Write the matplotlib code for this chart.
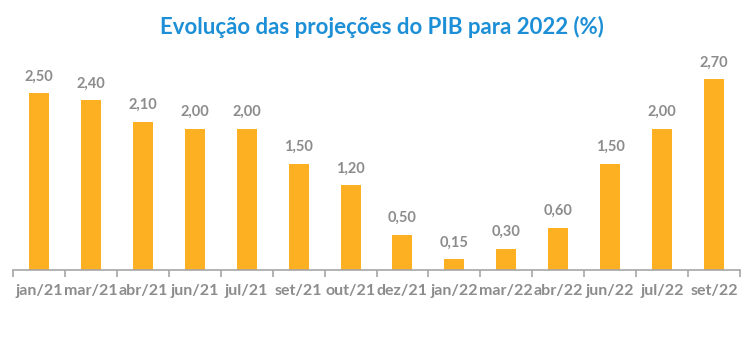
import matplotlib.pyplot as plt

months = ["jan/21", "mar/21", "abr/21", "jun/21", "jul/21", "set/21", "out/21",
          "dez/21", "jan/22", "mar/22", "abr/22", "jun/22", "jul/22", "set/22"]
pib = [2.50, 2.40, 2.10, 2.00, 2.00, 1.50, 1.20, 0.50, 0.15, 0.30, 0.60, 1.50, 2.00, 2.70]

BAR = "#FDB022"
GRAY = "#8C8C8C"
TITLE = "#1C8FD6"

plt.rcParams["font.family"] = ["Lato", "DejaVu Sans"]

fig = plt.figure(figsize=(7.5, 3.55), dpi=100)
ax = fig.add_axes([13 / 750, 1 - 270 / 355, 727 / 750, 3.0 * 70.7 / 355])

x = range(len(months))
ax.bar(x, pib, width=0.385, color=BAR)
for xi, v in zip(x, pib):
    ax.annotate(f"{v:.2f}".replace(".", ","), (xi, v), xytext=(0, 7),
                textcoords="offset points", ha="center", va="bottom",
                fontsize=10.5, fontweight="bold", color=GRAY)

ax.set_xlim(-0.5, len(months) - 0.5)
ax.set_ylim(0, 3.0)
ax.set_yticks([])
for s in ["top", "right", "left"]:
    ax.spines[s].set_visible(False)
ax.spines["bottom"].set_color("#A6A6A6")
ax.spines["bottom"].set_linewidth(1.2)

ax.set_xticks(list(x))
ax.set_xticklabels(months, fontsize=11.5, fontweight="bold", color=GRAY)
ax.tick_params(axis="x", length=0, pad=10)
# boundary tick marks between categories
ax.set_xticks([i - 0.5 for i in range(len(months) + 1)], minor=True)
ax.tick_params(axis="x", which="minor", length=5, width=1.2, color="#A6A6A6")

fig.text(382 / 750, 1 - 27 / 355, "Evolução das projeções do PIB para 2022 (%)",
         ha="center", va="center", fontsize=16, fontweight="bold", color=TITLE)

fig.savefig("out.png", dpi=100)
